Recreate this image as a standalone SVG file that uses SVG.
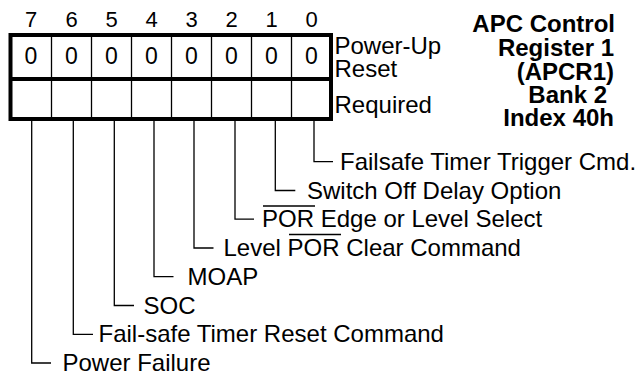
<svg xmlns="http://www.w3.org/2000/svg" width="638" height="378" viewBox="0 0 638 378">
<style>
text{font-family:"Liberation Sans",Arial,Helvetica,sans-serif;fill:#000}
.hd{font-size:22px;text-anchor:middle}
.v{font-size:23px;text-anchor:middle}
.lb{font-size:24px}
.rl{font-size:24px}
.tt{font-size:24px;font-weight:bold;text-anchor:end}
.ob{fill:none;stroke:#000;stroke-width:4}
.cd{stroke:#000;stroke-width:1.3}
.ld{fill:none;stroke:#000;stroke-width:1.3}
.ovl{stroke:#000;stroke-width:1.3}
</style>
<rect width="638" height="378" fill="#fff"/>
<g id="register">
<g id="bit-numbers">
<text class="hd" x="31" y="27">7</text>
<text class="hd" x="71.5" y="27">6</text>
<text class="hd" x="111.5" y="27">5</text>
<text class="hd" x="151.5" y="27">4</text>
<text class="hd" x="191.5" y="27">3</text>
<text class="hd" x="231.5" y="27">2</text>
<text class="hd" x="271.5" y="27">1</text>
<text class="hd" x="311.5" y="27">0</text>
</g>
<g id="cells">
<line class="cd" x1="51.5" y1="35" x2="51.5" y2="119"/>
<line class="cd" x1="91.5" y1="35" x2="91.5" y2="119"/>
<line class="cd" x1="131.5" y1="35" x2="131.5" y2="119"/>
<line class="cd" x1="171.5" y1="35" x2="171.5" y2="119"/>
<line class="cd" x1="211.5" y1="35" x2="211.5" y2="119"/>
<line class="cd" x1="251.5" y1="35" x2="251.5" y2="119"/>
<line class="cd" x1="291.5" y1="35" x2="291.5" y2="119"/>
<rect class="ob" x="10.5" y="35" width="320.5" height="84"/>
<line class="ob" x1="10.5" y1="79" x2="331" y2="79"/>
</g>
<g id="reset-values">
<text class="v" x="31" y="64">0</text>
<text class="v" x="71.5" y="64">0</text>
<text class="v" x="111.5" y="64">0</text>
<text class="v" x="151.5" y="64">0</text>
<text class="v" x="191.5" y="64">0</text>
<text class="v" x="231.5" y="64">0</text>
<text class="v" x="271.5" y="64">0</text>
<text class="v" x="311.5" y="64">0</text>
</g>
</g>
<g id="row-labels">
<text class="rl" x="334.5" y="54">Power-Up</text>
<text class="rl" x="334.5" y="77">Reset</text>
<text class="rl" x="334.5" y="113">Required</text>
</g>
<g id="title">
<text class="tt" x="615" y="32">APC Control</text>
<text class="tt" x="614" y="56">Register 1</text>
<text class="tt" x="614" y="80">(APCR1)</text>
<text class="tt" x="607" y="103">Bank 2</text>
<text class="tt" x="614" y="126">Index 40h</text>
</g>
<g id="connectors">
<path class="ld" d="M314 121V161.7H333"/>
<path class="ld" d="M275.3 121V190.5H295.3"/>
<path class="ld" d="M235 121V219.2H254"/>
<path class="ld" d="M194 121V248H213.5"/>
<path class="ld" d="M154 121V276.7H173.5"/>
<path class="ld" d="M114.3 121V305.5H134"/>
<path class="ld" d="M73.3 121V334.3H93"/>
<path class="ld" d="M31.7 121V363H51"/>
</g>
<g id="bit0"><text class="lb" x="340" y="170">Failsafe Timer Trigger Cmd.</text></g>
<g id="bit1"><text class="lb" x="307" y="198.5">Switch Off Delay Option</text></g>
<g id="bit2"><text class="lb" x="262" y="227">POR Edge or Level Select</text><line class="ovl" x1="263" y1="206" x2="315" y2="206"/></g>
<g id="bit3"><text class="lb" x="223.5" y="255.5">Level POR Clear Command</text><line class="ovl" x1="289" y1="234.5" x2="341" y2="234.5"/></g>
<g id="bit4"><text class="lb" x="187.5" y="284.5">MOAP</text></g>
<g id="bit5"><text class="lb" x="143.5" y="313.5">SOC</text></g>
<g id="bit6"><text class="lb" x="98.5" y="342">Fail-safe Timer Reset Command</text></g>
<g id="bit7"><text class="lb" x="62.5" y="371">Power Failure</text></g>
</svg>
